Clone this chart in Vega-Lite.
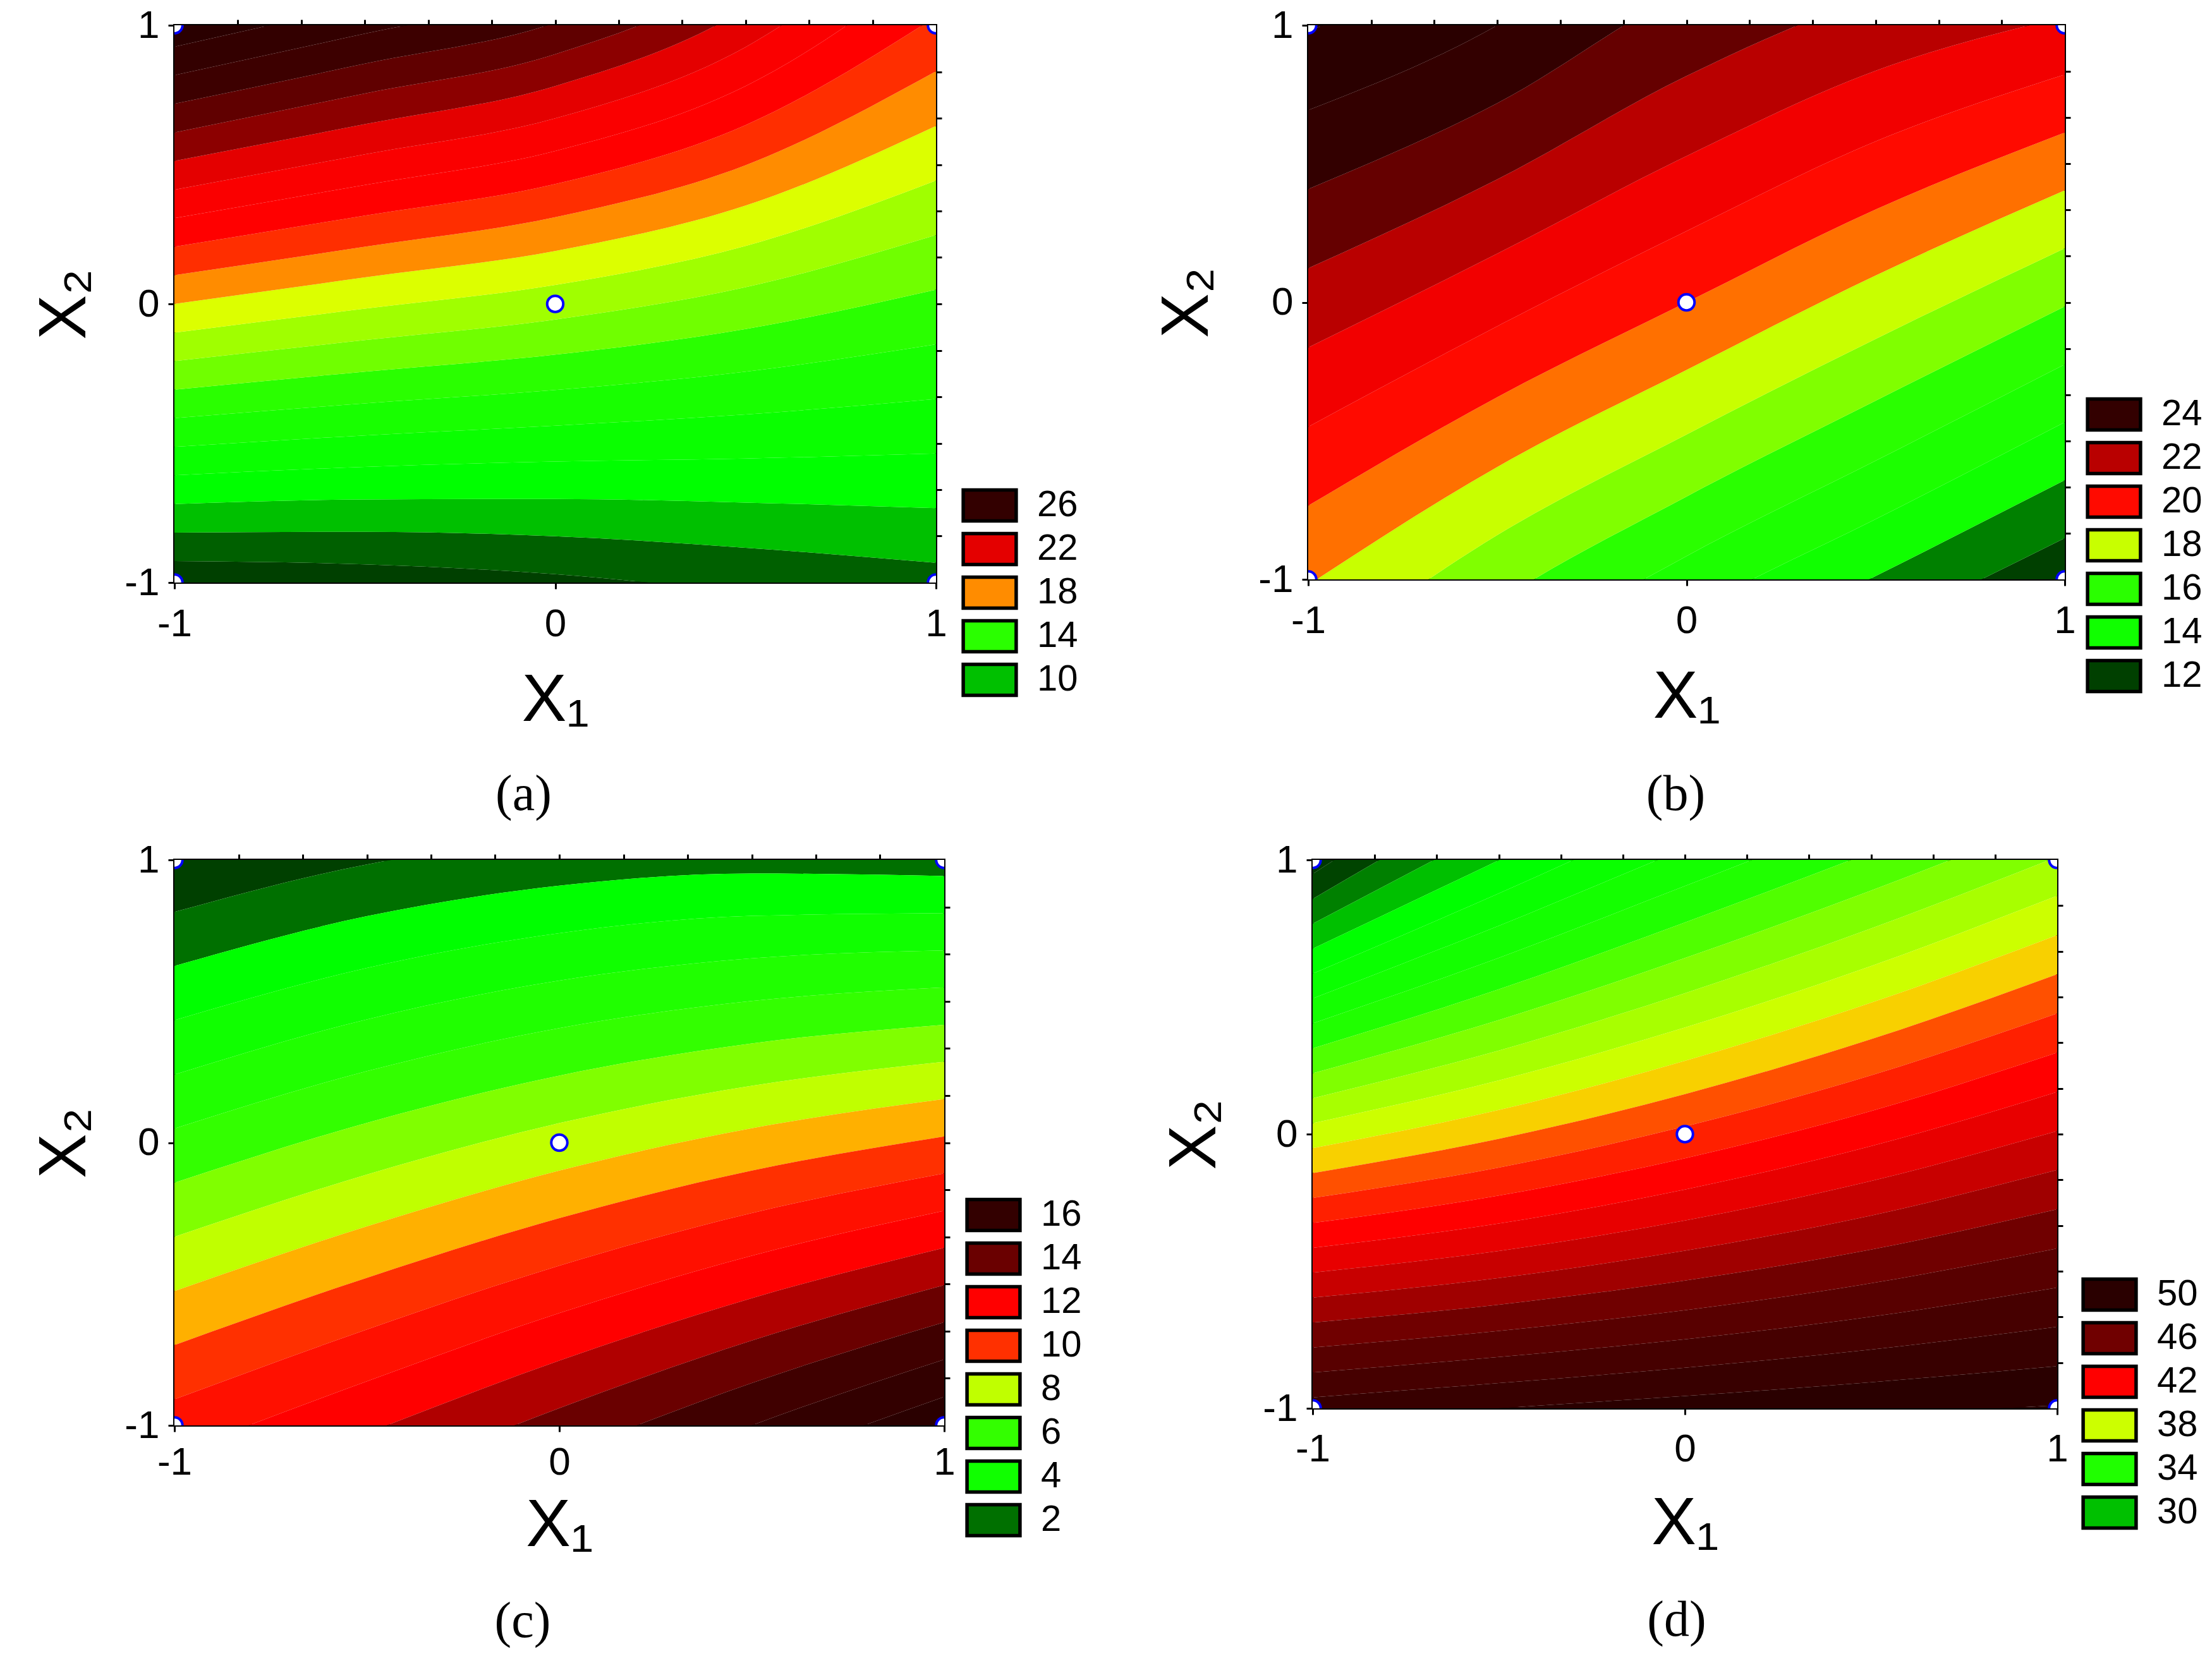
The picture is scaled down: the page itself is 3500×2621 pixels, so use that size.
{
"$schema":"https://vega.github.io/schema/vega-lite/v6.json",
"background":"white",
"padding":{"left":47,"top":7,"right":5,"bottom":5},
"config":{
 "view":{"stroke":"black","strokeWidth":4},
 "font":"Liberation Sans",
 "axis":{"grid":false,"domain":false,"tickColor":"black","tickWidth":3,"labelColor":"black","labelFont":"Liberation Sans Narrow, Liberation Sans, Arial","labelFontSize":62,"labelFlush":false,"titleFont":"Liberation Sans","titleFontSize":106,"titleFontWeight":"normal","titleColor":"black","format":"~g","labelExpr":"replace(datum.label, '\u2212', '-')"},
 "legend":{"orient":"none","symbolType":"M-1.71,-1H1.71V1H-1.71Z","symbolSize":2401,"symbolStrokeColor":"black","symbolStrokeWidth":5.5,"symbolOpacity":1,"labelFont":"Liberation Sans Narrow, Liberation Sans, Arial","labelFontSize":58,"labelColor":"black","labelOffset":46,"rowPadding":-3,"padding":0,"symbolOffset":0}
},
"datasets":{
"P":[{"x":0,"y":0},{"x":-1,"y":-1},{"x":-1,"y":1},{"x":1,"y":-1},{"x":1,"y":1}],
"A":[
{"c":8,"x":-1,"y":-3},{"c":8,"x":-0.5,"y":-3},{"c":8,"x":0,"y":-3},{"c":8,"x":0.5,"y":-3},{"c":8,"x":1,"y":-3},
{"c":9,"x":-1,"y":-0.923},{"c":9,"x":-0.5,"y":-0.935},{"c":9,"x":0,"y":-0.970},{"c":9,"x":0.5,"y":-1.038},{"c":9,"x":1,"y":-1.125},
{"c":10,"x":-1,"y":-0.821},{"c":10,"x":-0.5,"y":-0.818},{"c":10,"x":0,"y":-0.834},{"c":10,"x":0.5,"y":-0.875},{"c":10,"x":1,"y":-0.929},
{"c":11,"x":-1,"y":-0.718},{"c":11,"x":-0.5,"y":-0.702},{"c":11,"x":0,"y":-0.700},{"c":11,"x":0.5,"y":-0.713},{"c":11,"x":1,"y":-0.733},
{"c":12,"x":-1,"y":-0.615},{"c":12,"x":-0.5,"y":-0.585},{"c":12,"x":0,"y":-0.566},{"c":12,"x":0.5,"y":-0.555},{"c":12,"x":1,"y":-0.537},
{"c":13,"x":-1,"y":-0.513},{"c":13,"x":-0.5,"y":-0.472},{"c":13,"x":0,"y":-0.437},{"c":13,"x":0.5,"y":-0.397},{"c":13,"x":1,"y":-0.341},
{"c":14,"x":-1,"y":-0.410},{"c":14,"x":-0.5,"y":-0.357},{"c":14,"x":0,"y":-0.309},{"c":14,"x":0.5,"y":-0.243},{"c":14,"x":1,"y":-0.145},
{"c":15,"x":-1,"y":-0.308},{"c":15,"x":-0.5,"y":-0.243},{"c":15,"x":0,"y":-0.182},{"c":15,"x":0.5,"y":-0.090},{"c":15,"x":1,"y":0.051},
{"c":16,"x":-1,"y":-0.205},{"c":16,"x":-0.5,"y":-0.130},{"c":16,"x":0,"y":-0.056},{"c":16,"x":0.5,"y":0.060},{"c":16,"x":1,"y":0.247},
{"c":17,"x":-1,"y":-0.103},{"c":17,"x":-0.5,"y":-0.017},{"c":17,"x":0,"y":0.068},{"c":17,"x":0.5,"y":0.208},{"c":17,"x":1,"y":0.443},
{"c":18,"x":-1,"y":0.0},{"c":18,"x":-0.5,"y":0.095},{"c":18,"x":0,"y":0.190},{"c":18,"x":0.5,"y":0.353},{"c":18,"x":1,"y":0.639},
{"c":19,"x":-1,"y":0.103},{"c":19,"x":-0.5,"y":0.205},{"c":19,"x":0,"y":0.311},{"c":19,"x":0.5,"y":0.498},{"c":19,"x":1,"y":0.835},
{"c":20,"x":-1,"y":0.205},{"c":20,"x":-0.5,"y":0.317},{"c":20,"x":0,"y":0.430},{"c":20,"x":0.5,"y":0.642},{"c":20,"x":1,"y":1.031},
{"c":21,"x":-1,"y":0.308},{"c":21,"x":-0.5,"y":0.427},{"c":21,"x":0,"y":0.549},{"c":21,"x":0.5,"y":0.782},{"c":21,"x":1,"y":1.227},
{"c":22,"x":-1,"y":0.410},{"c":22,"x":-0.5,"y":0.537},{"c":22,"x":0,"y":0.666},{"c":22,"x":0.5,"y":0.922},{"c":22,"x":1,"y":1.424},
{"c":23,"x":-1,"y":0.513},{"c":23,"x":-0.5,"y":0.645},{"c":23,"x":0,"y":0.782},{"c":23,"x":0.5,"y":1.060},{"c":23,"x":1,"y":1.620},
{"c":24,"x":-1,"y":0.615},{"c":24,"x":-0.5,"y":0.755},{"c":24,"x":0,"y":0.896},{"c":24,"x":0.5,"y":1.195},{"c":24,"x":1,"y":1.816},
{"c":25,"x":-1,"y":0.718},{"c":25,"x":-0.5,"y":0.862},{"c":25,"x":0,"y":1.009},{"c":25,"x":0.5,"y":1.330},{"c":25,"x":1,"y":2.012},
{"c":26,"x":-1,"y":0.821},{"c":26,"x":-0.5,"y":0.970},{"c":26,"x":0,"y":1.121},{"c":26,"x":0.5,"y":1.463},{"c":26,"x":1,"y":2.208},
{"c":27,"x":-1,"y":0.923},{"c":27,"x":-0.5,"y":1.077},{"c":27,"x":0,"y":1.232},{"c":27,"x":0.5,"y":1.595},{"c":27,"x":1,"y":2.404},
{"c":28,"x":-1,"y":3},{"c":28,"x":-0.5,"y":3},{"c":28,"x":0,"y":3},{"c":28,"x":0.5,"y":3},{"c":28,"x":1,"y":3}
],
"B":[
{"c":12,"x":-1,"y":-3},{"c":12,"x":-0.5,"y":-3},{"c":12,"x":0,"y":-3},{"c":12,"x":0.5,"y":-3},{"c":12,"x":1,"y":-3},
{"c":13,"x":-1,"y":-2.734},{"c":13,"x":-0.5,"y":-2.007},{"c":13,"x":0,"y":-1.519},{"c":13,"x":0.5,"y":-1.188},{"c":13,"x":1,"y":-0.851},
{"c":14,"x":-1,"y":-2.449},{"c":14,"x":-0.5,"y":-1.781},{"c":14,"x":0,"y":-1.325},{"c":14,"x":0.5,"y":-0.988},{"c":14,"x":1,"y":-0.642},
{"c":15,"x":-1,"y":-2.163},{"c":15,"x":-0.5,"y":-1.552},{"c":15,"x":0,"y":-1.124},{"c":15,"x":0.5,"y":-0.783},{"c":15,"x":1,"y":-0.433},
{"c":16,"x":-1,"y":-1.877},{"c":16,"x":-0.5,"y":-1.319},{"c":16,"x":0,"y":-0.916},{"c":16,"x":0.5,"y":-0.572},{"c":16,"x":1,"y":-0.224},
{"c":17,"x":-1,"y":-1.591},{"c":17,"x":-0.5,"y":-1.082},{"c":17,"x":0,"y":-0.701},{"c":17,"x":0.5,"y":-0.355},{"c":17,"x":1,"y":-0.015},
{"c":18,"x":-1,"y":-1.306},{"c":18,"x":-0.5,"y":-0.840},{"c":18,"x":0,"y":-0.477},{"c":18,"x":0.5,"y":-0.132},{"c":18,"x":1,"y":0.195},
{"c":19,"x":-1,"y":-1.020},{"c":19,"x":-0.5,"y":-0.594},{"c":19,"x":0,"y":-0.244},{"c":19,"x":0.5,"y":0.097},{"c":19,"x":1,"y":0.404},
{"c":20,"x":-1,"y":-0.734},{"c":20,"x":-0.5,"y":-0.342},{"c":20,"x":0,"y":0.0},{"c":20,"x":0.5,"y":0.335},{"c":20,"x":1,"y":0.613},
{"c":21,"x":-1,"y":-0.449},{"c":21,"x":-0.5,"y":-0.086},{"c":21,"x":0,"y":0.257},{"c":21,"x":0.5,"y":0.581},{"c":21,"x":1,"y":0.822},
{"c":22,"x":-1,"y":-0.163},{"c":22,"x":-0.5,"y":0.176},{"c":22,"x":0,"y":0.528},{"c":22,"x":0.5,"y":0.836},{"c":22,"x":1,"y":1.031},
{"c":23,"x":-1,"y":0.123},{"c":23,"x":-0.5,"y":0.444},{"c":23,"x":0,"y":0.817},{"c":23,"x":0.5,"y":1.103},{"c":23,"x":1,"y":1.241},
{"c":24,"x":-1,"y":0.409},{"c":24,"x":-0.5,"y":0.719},{"c":24,"x":0,"y":1.127},{"c":24,"x":0.5,"y":1.381},{"c":24,"x":1,"y":1.450},
{"c":25,"x":-1,"y":0.694},{"c":25,"x":-0.5,"y":1.0},{"c":25,"x":0,"y":1.465},{"c":25,"x":0.5,"y":1.673},{"c":25,"x":1,"y":1.700},
{"c":26,"x":-1,"y":0.980},{"c":26,"x":-0.5,"y":1.289},{"c":26,"x":0,"y":1.838},{"c":26,"x":0.5,"y":1.981},{"c":26,"x":1,"y":2.0},
{"c":27,"x":-1,"y":3},{"c":27,"x":-0.5,"y":3},{"c":27,"x":0,"y":3},{"c":27,"x":0.5,"y":3},{"c":27,"x":1,"y":3}
],
"C":[
{"c":1,"x":-1,"y":3},{"c":1,"x":-0.5,"y":3},{"c":1,"x":0,"y":3},{"c":1,"x":0.5,"y":3},{"c":1,"x":1,"y":3},
{"c":2,"x":-1,"y":0.816},{"c":2,"x":-0.5,"y":0.984},{"c":2,"x":0,"y":1.077},{"c":2,"x":0.5,"y":1.102},{"c":2,"x":1,"y":1.075},
{"c":3,"x":-1,"y":0.625},{"c":3,"x":-0.5,"y":0.801},{"c":3,"x":0,"y":0.909},{"c":3,"x":0.5,"y":0.952},{"c":3,"x":1,"y":0.943},
{"c":4,"x":-1,"y":0.433},{"c":4,"x":-0.5,"y":0.618},{"c":4,"x":0,"y":0.741},{"c":4,"x":0.5,"y":0.802},{"c":4,"x":1,"y":0.812},
{"c":5,"x":-1,"y":0.241},{"c":5,"x":-0.5,"y":0.436},{"c":5,"x":0,"y":0.573},{"c":5,"x":0.5,"y":0.652},{"c":5,"x":1,"y":0.680},
{"c":6,"x":-1,"y":0.050},{"c":6,"x":-0.5,"y":0.253},{"c":6,"x":0,"y":0.405},{"c":6,"x":0.5,"y":0.501},{"c":6,"x":1,"y":0.549},
{"c":7,"x":-1,"y":-0.142},{"c":7,"x":-0.5,"y":0.070},{"c":7,"x":0,"y":0.237},{"c":7,"x":0.5,"y":0.351},{"c":7,"x":1,"y":0.417},
{"c":8,"x":-1,"y":-0.333},{"c":8,"x":-0.5,"y":-0.113},{"c":8,"x":0,"y":0.069},{"c":8,"x":0.5,"y":0.201},{"c":8,"x":1,"y":0.286},
{"c":9,"x":-1,"y":-0.525},{"c":9,"x":-0.5,"y":-0.296},{"c":9,"x":0,"y":-0.099},{"c":9,"x":0.5,"y":0.051},{"c":9,"x":1,"y":0.154},
{"c":10,"x":-1,"y":-0.716},{"c":10,"x":-0.5,"y":-0.478},{"c":10,"x":0,"y":-0.267},{"c":10,"x":0.5,"y":-0.099},{"c":10,"x":1,"y":0.022},
{"c":11,"x":-1,"y":-0.908},{"c":11,"x":-0.5,"y":-0.661},{"c":11,"x":0,"y":-0.435},{"c":11,"x":0.5,"y":-0.249},{"c":11,"x":1,"y":-0.109},
{"c":12,"x":-1,"y":-1.100},{"c":12,"x":-0.5,"y":-0.844},{"c":12,"x":0,"y":-0.603},{"c":12,"x":0.5,"y":-0.400},{"c":12,"x":1,"y":-0.241},
{"c":13,"x":-1,"y":-1.291},{"c":13,"x":-0.5,"y":-1.027},{"c":13,"x":0,"y":-0.771},{"c":13,"x":0.5,"y":-0.550},{"c":13,"x":1,"y":-0.372},
{"c":14,"x":-1,"y":-1.483},{"c":14,"x":-0.5,"y":-1.210},{"c":14,"x":0,"y":-0.939},{"c":14,"x":0.5,"y":-0.700},{"c":14,"x":1,"y":-0.504},
{"c":15,"x":-1,"y":-1.674},{"c":15,"x":-0.5,"y":-1.392},{"c":15,"x":0,"y":-1.108},{"c":15,"x":0.5,"y":-0.850},{"c":15,"x":1,"y":-0.635},
{"c":16,"x":-1,"y":-1.866},{"c":16,"x":-0.5,"y":-1.575},{"c":16,"x":0,"y":-1.276},{"c":16,"x":0.5,"y":-1.000},{"c":16,"x":1,"y":-0.767},
{"c":17,"x":-1,"y":-2.057},{"c":17,"x":-0.5,"y":-1.758},{"c":17,"x":0,"y":-1.444},{"c":17,"x":0.5,"y":-1.150},{"c":17,"x":1,"y":-0.899},
{"c":18,"x":-1,"y":-3},{"c":18,"x":-0.5,"y":-3},{"c":18,"x":0,"y":-3},{"c":18,"x":0.5,"y":-3},{"c":18,"x":1,"y":-3}
],
"D":[
{"c":27,"x":-1,"y":3},{"c":27,"x":-0.5,"y":3},{"c":27,"x":0,"y":3},{"c":27,"x":0.5,"y":3},{"c":27,"x":1,"y":3},
{"c":28,"x":-1,"y":0.949},{"c":28,"x":-0.5,"y":1.378},{"c":28,"x":0,"y":1.777},{"c":28,"x":0.5,"y":2.068},{"c":28,"x":1,"y":2.297},
{"c":29,"x":-1,"y":0.858},{"c":29,"x":-0.5,"y":1.249},{"c":29,"x":0,"y":1.622},{"c":29,"x":0.5,"y":1.912},{"c":29,"x":1,"y":2.154},
{"c":30,"x":-1,"y":0.767},{"c":30,"x":-0.5,"y":1.123},{"c":30,"x":0,"y":1.471},{"c":30,"x":0.5,"y":1.759},{"c":30,"x":1,"y":2.011},
{"c":31,"x":-1,"y":0.676},{"c":31,"x":-0.5,"y":0.999},{"c":31,"x":0,"y":1.324},{"c":31,"x":0.5,"y":1.609},{"c":31,"x":1,"y":1.869},
{"c":32,"x":-1,"y":0.585},{"c":32,"x":-0.5,"y":0.878},{"c":32,"x":0,"y":1.181},{"c":32,"x":0.5,"y":1.460},{"c":32,"x":1,"y":1.726},
{"c":33,"x":-1,"y":0.495},{"c":33,"x":-0.5,"y":0.760},{"c":33,"x":0,"y":1.041},{"c":33,"x":0.5,"y":1.314},{"c":33,"x":1,"y":1.583},
{"c":34,"x":-1,"y":0.404},{"c":34,"x":-0.5,"y":0.643},{"c":34,"x":0,"y":0.905},{"c":34,"x":0.5,"y":1.170},{"c":34,"x":1,"y":1.440},
{"c":35,"x":-1,"y":0.313},{"c":35,"x":-0.5,"y":0.528},{"c":35,"x":0,"y":0.772},{"c":35,"x":0.5,"y":1.028},{"c":35,"x":1,"y":1.297},
{"c":36,"x":-1,"y":0.222},{"c":36,"x":-0.5,"y":0.416},{"c":36,"x":0,"y":0.642},{"c":36,"x":0.5,"y":0.888},{"c":36,"x":1,"y":1.154},
{"c":37,"x":-1,"y":0.131},{"c":37,"x":-0.5,"y":0.305},{"c":37,"x":0,"y":0.514},{"c":37,"x":0.5,"y":0.750},{"c":37,"x":1,"y":1.011},
{"c":38,"x":-1,"y":0.040},{"c":38,"x":-0.5,"y":0.196},{"c":38,"x":0,"y":0.389},{"c":38,"x":0.5,"y":0.613},{"c":38,"x":1,"y":0.869},
{"c":39,"x":-1,"y":-0.051},{"c":39,"x":-0.5,"y":0.088},{"c":39,"x":0,"y":0.267},{"c":39,"x":0.5,"y":0.479},{"c":39,"x":1,"y":0.726},
{"c":40,"x":-1,"y":-0.142},{"c":40,"x":-0.5,"y":-0.017},{"c":40,"x":0,"y":0.146},{"c":40,"x":0.5,"y":0.346},{"c":40,"x":1,"y":0.583},
{"c":41,"x":-1,"y":-0.233},{"c":41,"x":-0.5,"y":-0.122},{"c":41,"x":0,"y":0.028},{"c":41,"x":0.5,"y":0.214},{"c":41,"x":1,"y":0.440},
{"c":42,"x":-1,"y":-0.324},{"c":42,"x":-0.5,"y":-0.224},{"c":42,"x":0,"y":-0.088},{"c":42,"x":0.5,"y":0.084},{"c":42,"x":1,"y":0.297},
{"c":43,"x":-1,"y":-0.415},{"c":43,"x":-0.5,"y":-0.326},{"c":43,"x":0,"y":-0.202},{"c":43,"x":0.5,"y":-0.044},{"c":43,"x":1,"y":0.154},
{"c":44,"x":-1,"y":-0.505},{"c":44,"x":-0.5,"y":-0.426},{"c":44,"x":0,"y":-0.315},{"c":44,"x":0.5,"y":-0.171},{"c":44,"x":1,"y":0.011},
{"c":45,"x":-1,"y":-0.596},{"c":45,"x":-0.5,"y":-0.525},{"c":45,"x":0,"y":-0.425},{"c":45,"x":0.5,"y":-0.297},{"c":45,"x":1,"y":-0.131},
{"c":46,"x":-1,"y":-0.687},{"c":46,"x":-0.5,"y":-0.622},{"c":46,"x":0,"y":-0.534},{"c":46,"x":0.5,"y":-0.421},{"c":46,"x":1,"y":-0.274},
{"c":47,"x":-1,"y":-0.778},{"c":47,"x":-0.5,"y":-0.718},{"c":47,"x":0,"y":-0.642},{"c":47,"x":0.5,"y":-0.544},{"c":47,"x":1,"y":-0.417},
{"c":48,"x":-1,"y":-0.869},{"c":48,"x":-0.5,"y":-0.813},{"c":48,"x":0,"y":-0.748},{"c":48,"x":0.5,"y":-0.666},{"c":48,"x":1,"y":-0.560},
{"c":49,"x":-1,"y":-0.960},{"c":49,"x":-0.5,"y":-0.908},{"c":49,"x":0,"y":-0.852},{"c":49,"x":0.5,"y":-0.786},{"c":49,"x":1,"y":-0.703},
{"c":50,"x":-1,"y":-1.051},{"c":50,"x":-0.5,"y":-1.000},{"c":50,"x":0,"y":-0.955},{"c":50,"x":0.5,"y":-0.905},{"c":50,"x":1,"y":-0.846},
{"c":51,"x":-1,"y":-1.142},{"c":51,"x":-0.5,"y":-1.092},{"c":51,"x":0,"y":-1.057},{"c":51,"x":0.5,"y":-1.024},{"c":51,"x":1,"y":-0.989},
{"c":52,"x":-1,"y":-3},{"c":52,"x":-0.5,"y":-3},{"c":52,"x":0,"y":-3},{"c":52,"x":0.5,"y":-3},{"c":52,"x":1,"y":-3}
]
},
"resolve":{"scale":{"color":"independent"},"legend":{"color":"independent"}},
"spacing":28,
"vconcat":[
{"hconcat":[
 {"width":1205,"height":882,
  "title":{"text":"(a)","orient":"bottom","font":"Liberation Serif","fontSize":80,"fontWeight":"normal","color":"black","frame":"group","dx":-50,"offset":58},
  "layer":[
   {"data":{"name":"A"},
    "transform":[{"window":[{"op":"lead","field":"y","as":"hi"}],"groupby":["x"],"sort":[{"field":"c","order":"ascending"}]},{"filter":"isValid(datum.hi)"}],
    "mark":{"type":"area","interpolate":"monotone","clip":true,"opacity":1},
    "encoding":{
     "x":{"field":"x","type":"quantitative","scale":{"domain":[-1,1],"nice":false,"zero":false},"axis":{"orient":"bottom","values":[-1,0,1],"title":"X\u2081","tickSize":10,"labelPadding":25,"titlePadding":38}},
     "y":{"field":"y","type":"quantitative","stack":null,"scale":{"domain":[-1,1],"nice":false,"zero":false},"axis":{"orient":"left","values":[-1,0,1],"title":"X\u2082","tickSize":10,"labelPadding":14,"titlePadding":40}},
     "y2":{"field":"hi"},
     "color":{"field":"c","type":"nominal","scale":{"domain":[8,9,10,11,12,13,14,15,16,17,18,19,20,21,22,23,24,25,26,27],"range":["#004000","#006000","#00c000","#00ff00","#0aff00","#18ff00","#2aff00","#70ff00","#a0ff00","#dcff00","#ff8c00","#ff2e00","#ff0000","#fa0000","#e40000","#8c0000","#600000","#3d0000","#330000","#2a0000"]},
      "legend":{"title":null,"values":[26,22,18,14,10],"legendX":1261,"legendY":731}}
    }},
   {"data":{"name":"P"},
    "mark":{"type":"point","filled":true,"fill":"white","stroke":"#0000ff","strokeWidth":4,"size":650,"clip":true,"opacity":1},
    "encoding":{
     "x":{"field":"x","type":"quantitative","axis":{"orient":"top","values":[-0.8333,-0.6667,-0.5,-0.3333,-0.1667,0,0.1667,0.3333,0.5,0.6667,0.8333],"labels":false,"title":null,"tickSize":9}},
     "y":{"field":"y","type":"quantitative","axis":{"orient":"right","values":[-0.8333,-0.6667,-0.5,-0.3333,-0.1667,0,0.1667,0.3333,0.5,0.6667,0.8333],"labels":false,"title":null,"tickSize":9}}
    }}
  ],
  "resolve":{"axis":{"x":"independent","y":"independent"}}
 },
 {"width":1197,"height":877,
  "title":{"text":"(b)","orient":"bottom","font":"Liberation Serif","fontSize":80,"fontWeight":"normal","color":"black","frame":"group","dx":-17,"offset":63},
  "layer":[
   {"data":{"name":"B"},
    "transform":[{"window":[{"op":"lead","field":"y","as":"hi"}],"groupby":["x"],"sort":[{"field":"c","order":"ascending"}]},{"filter":"isValid(datum.hi)"}],
    "mark":{"type":"area","interpolate":"monotone","clip":true,"opacity":1},
    "encoding":{
     "x":{"field":"x","type":"quantitative","scale":{"domain":[-1,1],"nice":false,"zero":false},"axis":{"orient":"bottom","values":[-1,0,1],"title":"X\u2081","tickSize":10,"labelPadding":25,"titlePadding":38}},
     "y":{"field":"y","type":"quantitative","stack":null,"scale":{"domain":[-1,1],"nice":false,"zero":false},"axis":{"orient":"left","values":[-1,0,1],"title":"X\u2082","tickSize":10,"labelPadding":14,"titlePadding":58}},
     "y2":{"field":"hi"},
     "color":{"field":"c","type":"nominal","scale":{"domain":[12,13,14,15,16,17,18,19,20,21,22,23,24,25,26],"range":["#004000","#008000","#10ff00","#1cff00","#2aff00","#80ff00","#c8ff00","#ff7000","#ff0a00","#f20000","#b90000","#650000","#330000","#2a0000","#240000"]},
      "legend":{"title":null,"values":[24,22,20,18,16,14,12],"legendX":1246,"legendY":587}}
    }},
   {"data":{"name":"P"},
    "mark":{"type":"point","filled":true,"fill":"white","stroke":"#0000ff","strokeWidth":4,"size":650,"clip":true,"opacity":1},
    "encoding":{
     "x":{"field":"x","type":"quantitative","axis":{"orient":"top","values":[-0.8333,-0.6667,-0.5,-0.3333,-0.1667,0,0.1667,0.3333,0.5,0.6667,0.8333],"labels":false,"title":null,"tickSize":9}},
     "y":{"field":"y","type":"quantitative","axis":{"orient":"right","values":[-0.8333,-0.6667,-0.5,-0.3333,-0.1667,0,0.1667,0.3333,0.5,0.6667,0.8333],"labels":false,"title":null,"tickSize":9}}
    }}
  ],
  "resolve":{"axis":{"x":"independent","y":"independent"}}
 }
],"spacing":115,"resolve":{"scale":{"color":"independent"},"legend":{"color":"independent"}}},
{"hconcat":[
 {"width":1218,"height":895,
  "title":{"text":"(c)","orient":"bottom","font":"Liberation Serif","fontSize":80,"fontWeight":"normal","color":"black","frame":"group","dx":-58,"offset":61},
  "layer":[
   {"data":{"name":"C"},
    "transform":[{"window":[{"op":"lead","field":"y","as":"hi"}],"groupby":["x"],"sort":[{"field":"c","order":"ascending"}]},{"filter":"isValid(datum.hi)"}],
    "mark":{"type":"area","interpolate":"monotone","clip":true,"opacity":1},
    "encoding":{
     "x":{"field":"x","type":"quantitative","scale":{"domain":[-1,1],"nice":false,"zero":false},"axis":{"orient":"bottom","values":[-1,0,1],"title":"X\u2081","tickSize":10,"labelPadding":18,"titlePadding":17}},
     "y":{"field":"y","type":"quantitative","stack":null,"scale":{"domain":[-1,1],"nice":false,"zero":false},"axis":{"orient":"left","values":[-1,0,1],"title":"X\u2082","tickSize":10,"labelPadding":14,"titlePadding":40}},
     "y2":{"field":"hi"},
     "color":{"field":"c","type":"nominal","scale":{"domain":[1,2,3,4,5,6,7,8,9,10,11,12,13,14,15,16,17],"range":["#004000","#007000","#00ff00","#10ff00","#20ff00","#33ff00","#80ff00","#c0ff00","#ffb000","#ff3000","#ff1000","#ff0000","#b00000","#6a0000","#400000","#330000","#2a0000"]},
      "legend":{"title":null,"values":[16,14,12,10,8,6,4,2],"legendX":1267,"legendY":533}}
    }},
   {"data":{"name":"P"},
    "mark":{"type":"point","filled":true,"fill":"white","stroke":"#0000ff","strokeWidth":4,"size":650,"clip":true,"opacity":1},
    "encoding":{
     "x":{"field":"x","type":"quantitative","axis":{"orient":"top","values":[-0.8333,-0.6667,-0.5,-0.3333,-0.1667,0,0.1667,0.3333,0.5,0.6667,0.8333],"labels":false,"title":null,"tickSize":9}},
     "y":{"field":"y","type":"quantitative","axis":{"orient":"right","values":[-0.8333,-0.6667,-0.5,-0.3333,-0.1667,0,0.1667,0.3333,0.5,0.6667,0.8333],"labels":false,"title":null,"tickSize":9}}
    }}
  ],
  "resolve":{"axis":{"x":"independent","y":"independent"}}
 },
 {"width":1178,"height":868,
  "title":{"text":"(d)","orient":"bottom","font":"Liberation Serif","fontSize":80,"fontWeight":"normal","color":"black","frame":"group","dx":-13,"offset":62},
  "layer":[
   {"data":{"name":"D"},
    "transform":[{"window":[{"op":"lead","field":"y","as":"hi"}],"groupby":["x"],"sort":[{"field":"c","order":"ascending"}]},{"filter":"isValid(datum.hi)"}],
    "mark":{"type":"area","interpolate":"monotone","clip":true,"opacity":1},
    "encoding":{
     "x":{"field":"x","type":"quantitative","scale":{"domain":[-1,1],"nice":false,"zero":false},"axis":{"orient":"bottom","values":[-1,0,1],"title":"X\u2081","tickSize":10,"labelPadding":24,"titlePadding":35}},
     "y":{"field":"y","type":"quantitative","stack":null,"scale":{"domain":[-1,1],"nice":false,"zero":false},"axis":{"orient":"left","values":[-1,0,1],"title":"X\u2082","tickSize":10,"labelPadding":14,"titlePadding":53}},
     "y2":{"field":"hi"},
     "color":{"field":"c","type":"nominal","scale":{"domain":[27,28,29,30,31,32,33,34,35,36,37,38,39,40,41,42,43,44,45,46,47,48,49,50,51],"range":["#003800","#004400","#008000","#00c000","#00ff00","#0aff00","#14ff00","#20ff00","#50ff00","#80ff00","#a8ff00","#ccff00","#f8d000","#ff5000","#ff2000","#ff0000","#e80000","#c80000","#a00000","#700000","#580000","#460000","#380000","#2a0000","#220000"]},
      "legend":{"title":null,"values":[50,46,42,38,34,30],"legendX":1232,"legendY":659}}
    }},
   {"data":{"name":"P"},
    "mark":{"type":"point","filled":true,"fill":"white","stroke":"#0000ff","strokeWidth":4,"size":650,"clip":true,"opacity":1},
    "encoding":{
     "x":{"field":"x","type":"quantitative","axis":{"orient":"top","values":[-0.8333,-0.6667,-0.5,-0.3333,-0.1667,0,0.1667,0.3333,0.5,0.6667,0.8333],"labels":false,"title":null,"tickSize":9}},
     "y":{"field":"y","type":"quantitative","axis":{"orient":"right","values":[-0.8333,-0.6667,-0.5,-0.3333,-0.1667,0,0.1667,0.3333,0.5,0.6667,0.8333],"labels":false,"title":null,"tickSize":9}}
    }}
  ],
  "resolve":{"axis":{"x":"independent","y":"independent"}}
 }
],"spacing":121,"resolve":{"scale":{"color":"independent"},"legend":{"color":"independent"}}}
]
}
